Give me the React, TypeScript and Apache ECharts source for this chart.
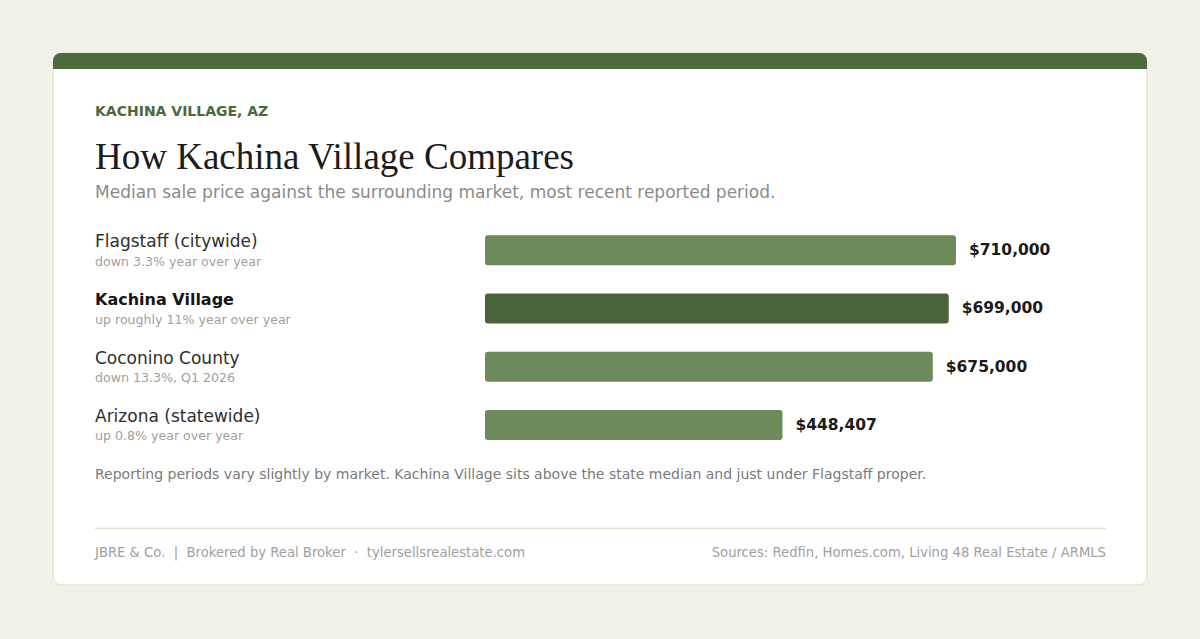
import React, { useEffect, useRef } from 'react';
import * as echarts from 'echarts';

// markets compared, top to bottom
const markets = ['Flagstaff (citywide)', 'Kachina Village', 'Coconino County', 'Arizona (statewide)'];
const changes = ['down 3.3% year over year', 'up roughly 11% year over year', 'down 13.3%, Q1 2026', 'up 0.8% year over year'];
const medianPrices = [710000, 699000, 675000, 448407];
const highlighted = 'Kachina Village';

const SANS = '"DejaVu Sans", "Noto Sans", sans-serif';
const SERIF = '"Liberation Serif", "DejaVu Serif", serif';

const App: React.FC = () => {
    const chartRef = useRef<HTMLDivElement>(null);

    useEffect(() => {
        if (!chartRef.current) return;
        const chart = echarts.init(chartRef.current, null, { renderer: 'svg' });

        const option: echarts.EChartsOption = {
            animation: false,
            backgroundColor: '#f3f2e9',
            grid: { left: 485, top: 221, width: 471, height: 233, containLabel: false },
            xAxis: {
                type: 'value',
                min: 0,
                max: 710000,
                show: false,
            },
            yAxis: {
                type: 'category',
                data: markets,
                inverse: true,
                axisLine: { show: false },
                axisTick: { show: false },
                splitLine: { show: false },
                axisLabel: {
                    margin: 390,
                    align: 'left',
                    formatter: (value: string, idx: number) =>
                        `{${value === highlighted ? 'nameB' : 'name'}|${value}}\n{sub|${changes[idx]}}`,
                    rich: {
                        name: { fontFamily: SANS, fontSize: 17, color: '#2e2e2e', lineHeight: 22 },
                        nameB: { fontFamily: SANS, fontSize: 16, fontWeight: 'bold', color: '#151515', lineHeight: 22 },
                        sub: { fontFamily: SANS, fontSize: 12.6, color: '#a0a0a0', lineHeight: 18 },
                    },
                },
            },
            series: [
                {
                    type: 'bar',
                    barWidth: 30,
                    data: medianPrices.map((v, i) => ({
                        value: v,
                        itemStyle: { color: markets[i] === highlighted ? '#4a633a' : '#6c8a5a' },
                    })),
                    itemStyle: { borderRadius: 3 },
                    label: {
                        show: true,
                        position: 'right',
                        distance: 13,
                        fontFamily: SANS,
                        fontSize: 15.5,
                        fontWeight: 'bold',
                        color: '#1a1a1a',
                        formatter: (p: any) => '$' + Number(p.value).toLocaleString('en-US'),
                    },
                    z: 5,
                },
            ],
            graphic: [
                {
                    type: 'rect',
                    z: -10,
                    shape: { x: 53, y: 53, width: 1094, height: 532, r: 8 },
                    style: { fill: '#ffffff', stroke: '#dddccd', lineWidth: 1 },
                },
                {
                    type: 'rect',
                    z: -9,
                    shape: { x: 53, y: 53, width: 1094, height: 16, r: [8, 8, 0, 0] },
                    style: { fill: '#4b6a3b' },
                },
                {
                    type: 'text',
                    x: 95,
                    y: 111,
                    style: {
                        text: 'KACHINA VILLAGE, AZ',
                        fontFamily: SANS,
                        fontSize: 14,
                        fontWeight: 'bold',
                        fill: '#4b6a3b',
                        verticalAlign: 'middle',
                    },
                },
                {
                    type: 'text',
                    x: 95,
                    y: 156,
                    style: {
                        text: 'How Kachina Village Compares',
                        fontFamily: SERIF,
                        fontSize: 37,
                        fill: '#1c1c1c',
                        verticalAlign: 'middle',
                    },
                },
                {
                    type: 'text',
                    x: 95,
                    y: 192,
                    style: {
                        text: 'Median sale price against the surrounding market, most recent reported period.',
                        fontFamily: SANS,
                        fontSize: 17,
                        fill: '#8a8a8a',
                        verticalAlign: 'middle',
                    },
                },
                {
                    type: 'text',
                    x: 95,
                    y: 474,
                    style: {
                        text: 'Reporting periods vary slightly by market. Kachina Village sits above the state median and just under Flagstaff proper.',
                        fontFamily: SANS,
                        fontSize: 14,
                        fill: '#7a7a7a',
                        verticalAlign: 'middle',
                    },
                },
                {
                    type: 'line',
                    shape: { x1: 95, y1: 528.5, x2: 1106, y2: 528.5 },
                    style: { stroke: '#e2e1d4', lineWidth: 1.5 },
                },
                {
                    type: 'text',
                    x: 95,
                    y: 552,
                    style: {
                        text: 'JBRE & Co.  |  Brokered by Real Broker  ·  tylersellsrealestate.com',
                        fontFamily: SANS,
                        fontSize: 13.2,
                        fill: '#a0a0a0',
                        verticalAlign: 'middle',
                    },
                },
                {
                    type: 'text',
                    x: 1106,
                    y: 552,
                    style: {
                        text: 'Sources: Redfin, Homes.com, Living 48 Real Estate / ARMLS',
                        fontFamily: SANS,
                        fontSize: 13.2,
                        fill: '#a0a0a0',
                        align: 'right',
                        verticalAlign: 'middle',
                    },
                },
            ],
        };

        chart.setOption(option);

        const handleResize = () => chart.resize();
        window.addEventListener('resize', handleResize);
        return () => {
            window.removeEventListener('resize', handleResize);
            chart.dispose();
        };
    }, []);

    return (
        <div
            ref={chartRef}
            style={{ position: 'fixed', left: 0, top: 0, width: '1200px', height: '639px' }}
        />
    );
};

export default App;
